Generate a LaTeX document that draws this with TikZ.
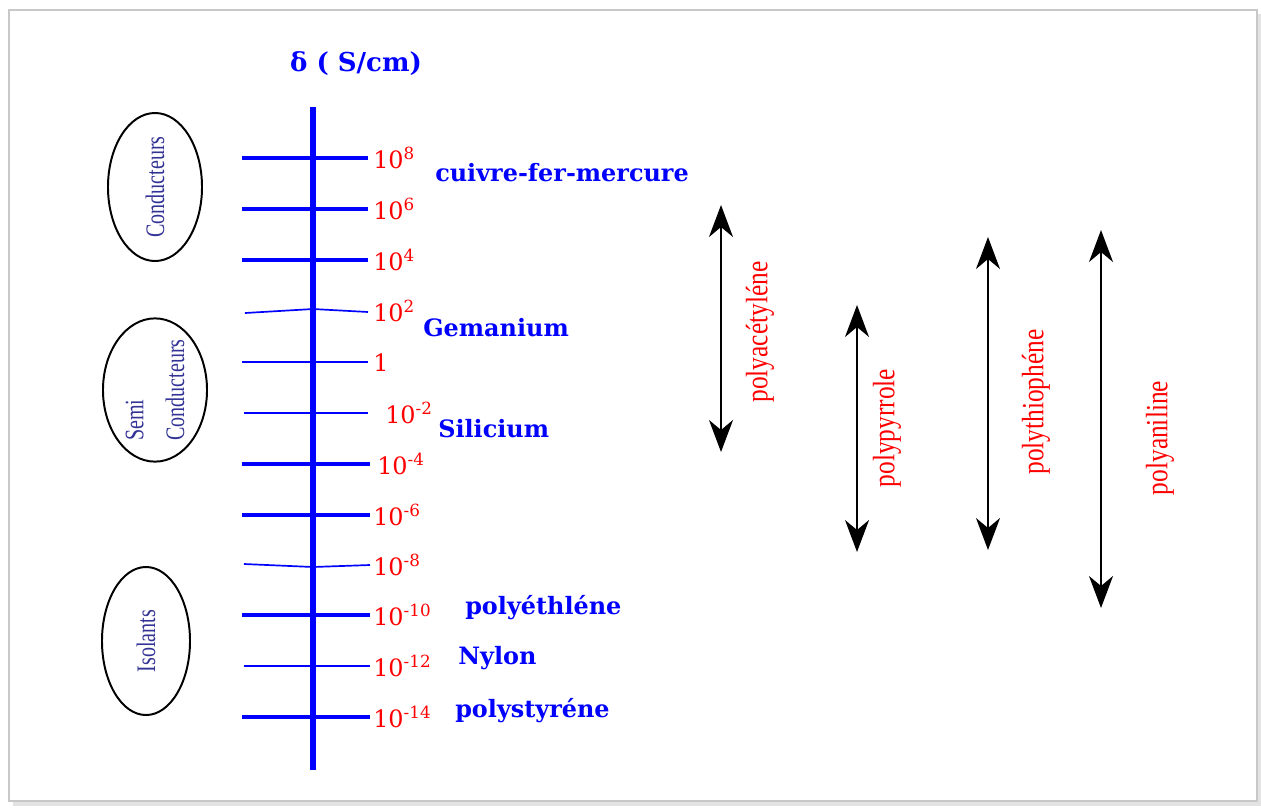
\documentclass[tikz,border=0pt]{standalone}
\usepackage{fontspec}
\setmainfont{Liberation Serif}
\newfontfamily\scalefont{DejaVu Serif}
\usetikzlibrary{arrows.meta,shapes.geometric}
\definecolor{scaleblue}{RGB}{0,0,255}
\definecolor{classnavy}{RGB}{51,51,150}
\definecolor{framegray}{RGB}{200,200,200}
\newcommand{\narrow}[2]{\scalebox{#1}[1]{#2}}
\tikzset{
  tickthick/.style={draw=scaleblue, line width=2.3pt},
  tickthin/.style={draw=scaleblue, line width=1.2pt},
  expo/.style={text=red, font=\scalefont\fontsize{17}{18}\selectfont, anchor=base west, inner sep=0pt},
  material/.style={text=scaleblue, font=\scalefont\bfseries\fontsize{17}{19}\selectfont, anchor=base west, inner sep=0pt},
  classe/.style={draw, ellipse, line width=1.4pt, rotate=90, text=classnavy, align=left, inner sep=0pt, font=\fontsize{19}{29}\selectfont},
  spanarrow/.style={{Stealth[length=0.8cm,width=0.6cm,inset=0.25cm]}-{Stealth[length=0.8cm,width=0.6cm,inset=0.25cm]}, line width=1pt},
  polylabel/.style={text=red, rotate=90, inner sep=0pt, font=\fontsize{22}{24}\selectfont}
}
\begin{document}
\begin{tikzpicture}[x=0.025cm,y=-0.025cm]
\useasboundingbox (0,0) rectangle (1261,811);
% frame
\fill[framegray!50] (13,14) rectangle (1261,806);
\filldraw[fill=white, draw=framegray, line width=1pt] (9,10) rectangle (1257,801);
% conductivity scale
\node[text=scaleblue, font=\scalefont\bfseries\fontsize{18.5}{20}\selectfont] (unit) at (356,64) {δ ( S/cm)};
\coordinate (top) at (313,107);
\coordinate (bottom) at (313,770);
\draw[scaleblue, line width=3.6pt] (top) -- (bottom);
\draw[tickthick] (242,158) -- (368,158);
\draw[tickthick] (242,209) -- (368,209);
\draw[tickthick] (242,260) -- (368,260);
\draw[tickthin] (245,313) -- (313,309) -- (368,312);
\draw[tickthin] (242,362) -- (368,362);
\draw[tickthin] (244,413) -- (368,413);
\draw[tickthick] (242,464) -- (370,464);
\draw[tickthick] (242,515) -- (370,515);
\draw[tickthin] (244,564) -- (313,567) -- (370,565);
\draw[tickthick] (242,615) -- (370,615);
\draw[tickthin] (244,666) -- (370,666);
\draw[tickthick] (242,717) -- (370,717);
% exponents
\node[expo] (e8) at (373,168) {10\textsuperscript{8}};
\node[expo] (e6) at (373,219) {10\textsuperscript{6}};
\node[expo] (e4) at (373,270) {10\textsuperscript{4}};
\node[expo] (e2) at (373,321) {10\textsuperscript{2}};
\node[expo] (e0) at (373,371) {1};
\node[expo] (em2) at (385,423) {10\textsuperscript{-2}};
\node[expo] (em4) at (377,474) {10\textsuperscript{-4}};
\node[expo] (em6) at (373,525) {10\textsuperscript{-6}};
\node[expo] (em8) at (373,575) {10\textsuperscript{-8}};
\node[expo] (em10) at (373,625) {10\textsuperscript{-10}};
\node[expo] (em12) at (373,676) {10\textsuperscript{-12}};
\node[expo] (em14) at (373,727) {10\textsuperscript{-14}};
% materials
\node[material] (metals) at (435,181) {cuivre-fer-mercure};
\node[material] (germanium) at (423,336) {Gemanium};
\node[material] (silicon) at (438,437) {Silicium};
\node[material] (pe) at (465,614) {polyéthléne};
\node[material] (nylon) at (458,664) {Nylon};
\node[material] (ps) at (455,717) {polystyréne};
% classes
\node[classe, minimum width=3.7cm, minimum height=2.35cm] (cond) at (155,187) {\narrow{0.75}{Conducteurs}};
\node[classe, minimum width=3.35cm, minimum height=2.6cm] (semi) at (155,390) {\narrow{0.75}{Semi}\\\narrow{0.75}{Conducteurs}};
\node[classe, minimum width=3.7cm, minimum height=2.2cm] (iso) at (146,641) {\narrow{0.75}{Isolants}};
% conducting polymers
\coordinate (acetA) at (721,205);
\coordinate (acetB) at (721,452);
\coordinate (pyrA) at (857,305);
\coordinate (pyrB) at (857,552);
\coordinate (thioA) at (988,237);
\coordinate (thioB) at (988,550);
\coordinate (aniA) at (1101,230);
\coordinate (aniB) at (1101,608);
\draw[spanarrow] (acetA) -- (acetB);
\draw[spanarrow] (pyrA) -- (pyrB);
\draw[spanarrow] (thioA) -- (thioB);
\draw[spanarrow] (aniA) -- (aniB);
\node[polylabel] (acet) at (760,332) {\narrow{0.82}{polyacétyléne}};
\node[polylabel] (pyr) at (887,428) {\narrow{0.82}{polypyrrole}};
\node[polylabel] (thio) at (1036,402) {\narrow{0.82}{polythiophéne}};
\node[polylabel] (ani) at (1160,438) {\narrow{0.82}{polyaniline}};
\end{tikzpicture}
\end{document}
